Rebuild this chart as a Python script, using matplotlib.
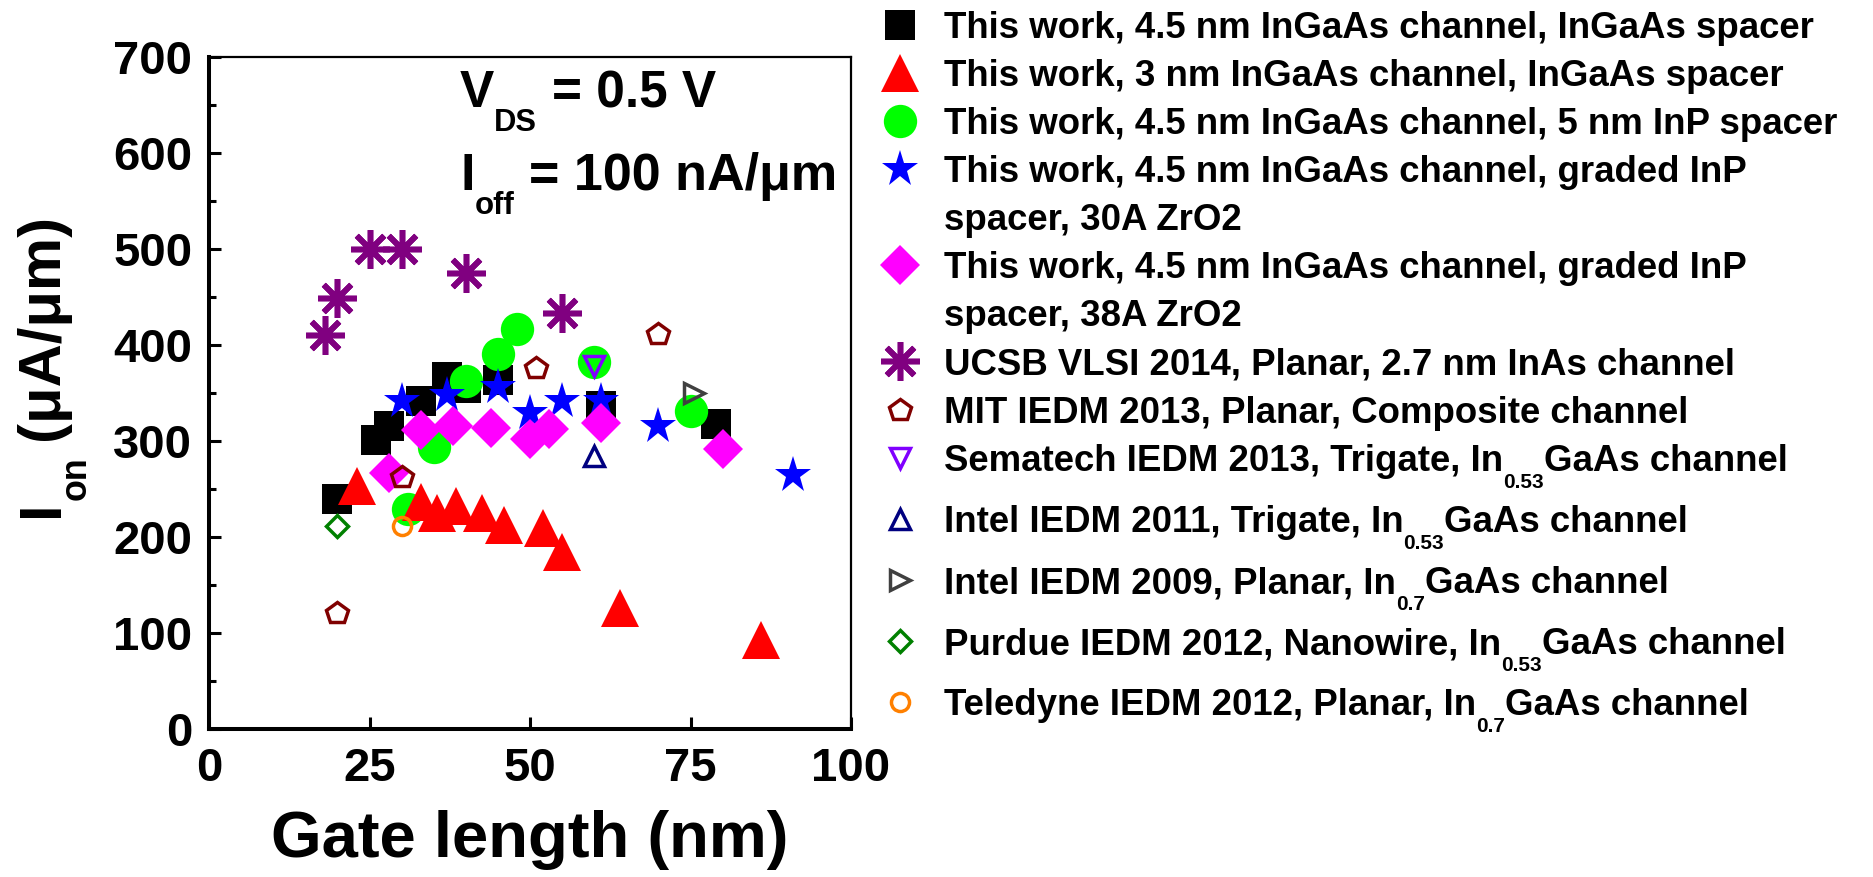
import matplotlib
matplotlib.use("Agg")
import matplotlib.pyplot as plt
from matplotlib.lines import Line2D
from matplotlib.ticker import MultipleLocator

plt.rcParams['font.family'] = ['Liberation Sans', 'DejaVu Sans']
plt.rcParams['font.weight'] = 'bold'

# ---- data: gate length (nm) and on-current (uA/um) ----
sq_x = [20, 26, 28, 33, 37, 40, 45, 61, 79]
sq_y = [240, 301, 316, 342, 367, 355, 364, 336, 318]
tri_x = [23, 33, 35.5, 38.5, 42.5, 46, 52, 55, 64, 86]
tri_y = [253, 236, 225, 232, 225, 212, 209, 184, 126, 93]
circ_x = [31, 35, 40, 45, 48, 60, 75]
circ_y = [229, 294, 363, 391, 417, 382, 331]
star_x = [30, 37, 45, 50, 55, 61, 70, 91]
star_y = [342, 348, 356, 329, 342, 342, 316, 265]
dia_x = [28, 33, 38, 44, 50, 53, 61, 80]
dia_y = [267, 311, 316, 314, 302, 313, 319, 292]
ucsb_x = [18, 20, 25, 30, 40, 55]
ucsb_y = [410, 449, 500, 500, 475, 433]
mit_x = [20, 30, 51, 70]
mit_y = [121, 262, 376, 411]
sematech_x = [60]
sematech_y = [378]
intel11_x = [60]
intel11_y = [284]
intel09_x = [75.5]
intel09_y = [350]
purdue_x = [20]
purdue_y = [211]
teledyne_x = [30]
teledyne_y = [211]

x_ticks = [0, 25, 50, 75, 100]
y_ticks = [0, 100, 200, 300, 400, 500, 600, 700]

labels = [
    [["This work, 4.5 nm InGaAs channel, InGaAs spacer"]],
    [["This work, 3 nm InGaAs channel, InGaAs spacer"]],
    [["This work, 4.5 nm InGaAs channel, 5 nm InP spacer"]],
    [["This work, 4.5 nm InGaAs channel, graded InP"], ["spacer, 30A ZrO2"]],
    [["This work, 4.5 nm InGaAs channel, graded InP"], ["spacer, 38A ZrO2"]],
    [["UCSB VLSI 2014, Planar, 2.7 nm InAs channel"]],
    [["MIT IEDM 2013, Planar, Composite channel"]],
    [["Sematech IEDM 2013, Trigate, In", ("0.53", True), "GaAs channel"]],
    [["Intel IEDM 2011, Trigate, In", ("0.53", True), "GaAs channel"]],
    [["Intel IEDM 2009, Planar, In", ("0.7", True), "GaAs channel"]],
    [["Purdue IEDM 2012, Nanowire, In", ("0.53", True), "GaAs channel"]],
    [["Teledyne IEDM 2012, Planar, In", ("0.7", True), "GaAs channel"]],
]

series = [
    (sq_x, sq_y, dict(marker='s', ms=21, mfc='black', mec='black', mew=0)),
    (circ_x, circ_y, dict(marker='o', ms=24, mfc='#00FF00', mec='#00FF00', mew=0)),
    (tri_x, tri_y, dict(marker='^', ms=28, mfc='#FF0000', mec='#FF0000', mew=0)),
    (star_x, star_y, dict(marker='*', ms=28, mfc='#0000FF', mec='#0000FF', mew=0)),
    (dia_x, dia_y, dict(marker='D', ms=20, mfc='#FF00FF', mec='#FF00FF', mew=0)),
    (ucsb_x, ucsb_y, dict(marker=(8, 2, 0), ms=28, mfc='#800080', mec='#800080', mew=4)),
    (mit_x, mit_y, dict(marker='p', ms=16, mfc='none', mec='#800000', mew=2.5)),
    (sematech_x, sematech_y, dict(marker='v', ms=15, mfc='none', mec='#8000FF', mew=2.5)),
    (intel11_x, intel11_y, dict(marker='^', ms=15, mfc='none', mec='#000080', mew=2.5)),
    (intel09_x, intel09_y, dict(marker='>', ms=15, mfc='none', mec='#404040', mew=2.5)),
    (purdue_x, purdue_y, dict(marker='D', ms=11, mfc='none', mec='#008000', mew=2.5)),
    (teledyne_x, teledyne_y, dict(marker='o', ms=13, mfc='none', mec='#FF8000', mew=2.5)),
]
# legend order of the series above
legend_order = [0, 2, 1, 3, 4, 5, 6, 7, 8, 9, 10, 11]

W, H, DPI = 1873, 877, 100
PT = DPI / 72.0
fig = plt.figure(figsize=(W / DPI, H / DPI), dpi=DPI)
ax = fig.add_axes([209 / W, 1 - 729 / H, 642 / W, 672 / H])

for xs, ys, st in series:
    ax.plot(xs, ys, linestyle='none', **st)

ax.set_xlim(0, 100)
ax.set_ylim(0, 700)
ax.set_xticks(x_ticks)
ax.set_yticks(y_ticks)
ax.yaxis.set_minor_locator(MultipleLocator(50))
ax.tick_params(which='both', direction='in', top=False, right=False, width=2.2,
               labelsize=34)
ax.tick_params(which='major', length=8.5)
ax.tick_params(which='minor', length=5)
ax.tick_params(axis='x', pad=13)
ax.tick_params(axis='y', pad=12)
for lab in ax.get_xticklabels() + ax.get_yticklabels():
    lab.set_fontweight('bold')
for side in ('left', 'bottom'):
    ax.spines[side].set_linewidth(2.9)
for side in ('top', 'right'):
    ax.spines[side].set_linewidth(1.6)

ax.set_xlabel("Gate length (nm)", fontsize=47, fontweight='bold', labelpad=14)

renderer = fig.canvas.get_renderer()


def advance(text, fs):
    """Horizontal extent of a string in pixels."""
    probe = fig.text(0, 0, text, fontsize=fs, fontweight='bold')
    w = probe.get_window_extent(renderer).width
    probe.remove()
    return w


def rich(x, y, segments, size, rotation=0, sub_scale=0.6, sub_drop=0.46):
    """Draw text pieces with lowered subscripts; (x, y) is the baseline start
    in pixels measured from the top-left corner."""
    pos = 0.0
    for seg in segments:
        text, sub = seg if isinstance(seg, tuple) else (seg, False)
        lead = len(text) - len(text.lstrip(' '))
        text = text.strip(' ')
        fs = size * sub_scale if sub else size
        pos += lead * 0.278 * size * PT
        drop = sub_drop * size * PT if sub else 0.0
        if rotation == 0:
            px, py = x + pos, H - (y + drop)
        else:
            px, py = x + drop, H - (y - pos)
        fig.text(px / W, py / H, text, fontsize=fs, fontweight='bold',
                 ha='left', va='baseline', rotation=rotation,
                 rotation_mode='anchor')
        pos += advance(text, fs)


# y-axis title
rich(58, 517, ["I", ("on", True), " (\u03bcA/\u03bcm)"], 43, rotation=90)

# bias conditions
rich(460, 107, ["V", ("DS", True), " = 0.5 V"], 37)
rich(460, 190, ["I", ("off", True), " = 100 nA/\u03bcm"], 37.5)

# legend: vertical centre (px from top) of each text line
line_centres = [25, 73, 121, 169, 217, 265, 313, 361, 410, 458, 519, 580, 641, 702]
leg_size = 26.4
cap = 0.716 * leg_size * PT
line = 0
for idx, lab_lines in zip(legend_order, labels):
    xs, ys, st = series[idx]
    yc = line_centres[line]
    fig.add_artist(Line2D([900 / W], [1 - yc / H], transform=fig.transFigure,
                          linestyle='none', **st))
    for k, segs in enumerate(lab_lines):
        rich(944, line_centres[line + k] + cap / 2, segs, leg_size, sub_scale=0.57)
    line += len(lab_lines)

fig.savefig("out.png", dpi=DPI)
